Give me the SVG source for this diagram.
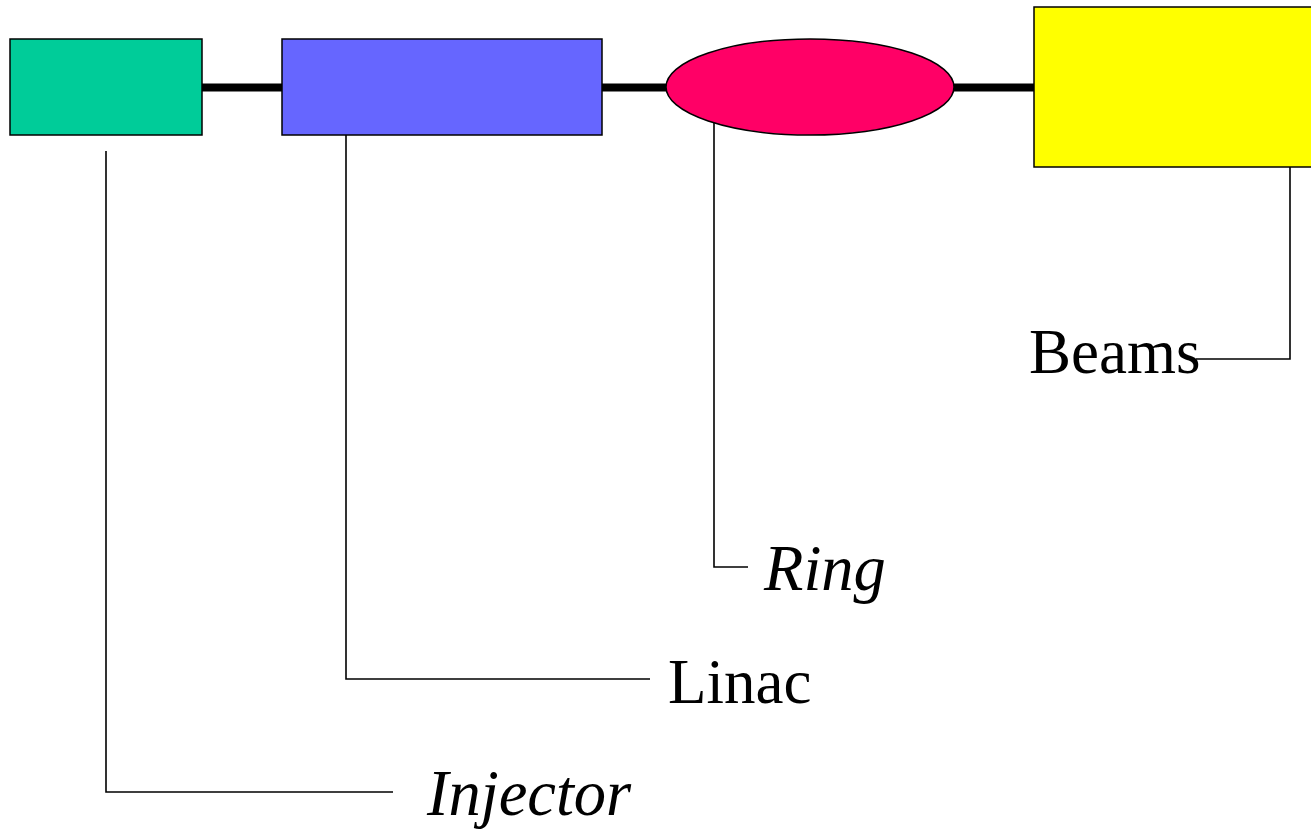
<svg xmlns="http://www.w3.org/2000/svg" width="1311" height="829" viewBox="0 0 1311 829">
<style>
.node{stroke:#000;stroke-width:1.5}
.beam{stroke:#000;stroke-width:8;fill:none}
.lead{stroke:#000;stroke-width:1.6;fill:none}
.lbl{font-family:"Liberation Serif","Times New Roman",serif;font-size:63px;fill:#000}
.it{font-style:italic;font-size:64.5px}
</style>
<rect width="1311" height="829" fill="#fff"/>
<g id="connectors">
<line class="beam" x1="202" y1="87.5" x2="282" y2="87.5"/>
<line class="beam" x1="602" y1="87.5" x2="667" y2="87.5"/>
<line class="beam" x1="953" y1="87.5" x2="1034" y2="87.5"/>
<polyline class="lead" points="106,151 106,792 393,792"/>
<polyline class="lead" points="346,135 346,679 650,679"/>
<polyline class="lead" points="714,118 714,567 748,567"/>
<polyline class="lead" points="1290,167 1290,359 1196,359"/>
</g>
<g id="injector"><rect class="node" x="10" y="39" width="192" height="96" fill="#00CC99"/></g>
<g id="linac"><rect class="node" x="282" y="39" width="320" height="96" fill="#6666FF"/></g>
<g id="ring"><ellipse class="node" cx="810" cy="87" rx="144" ry="48" fill="#FF0066"/></g>
<g id="beams"><rect class="node" x="1034" y="7" width="290" height="160" fill="#FFFF00"/></g>
<g id="labels">
<text class="lbl" x="1029" y="373">Beams</text>
<text class="lbl it" x="764" y="590">Ring</text>
<text class="lbl" x="668" y="703">Linac</text>
<text class="lbl it" x="427" y="815">Injector</text>
</g>
</svg>
